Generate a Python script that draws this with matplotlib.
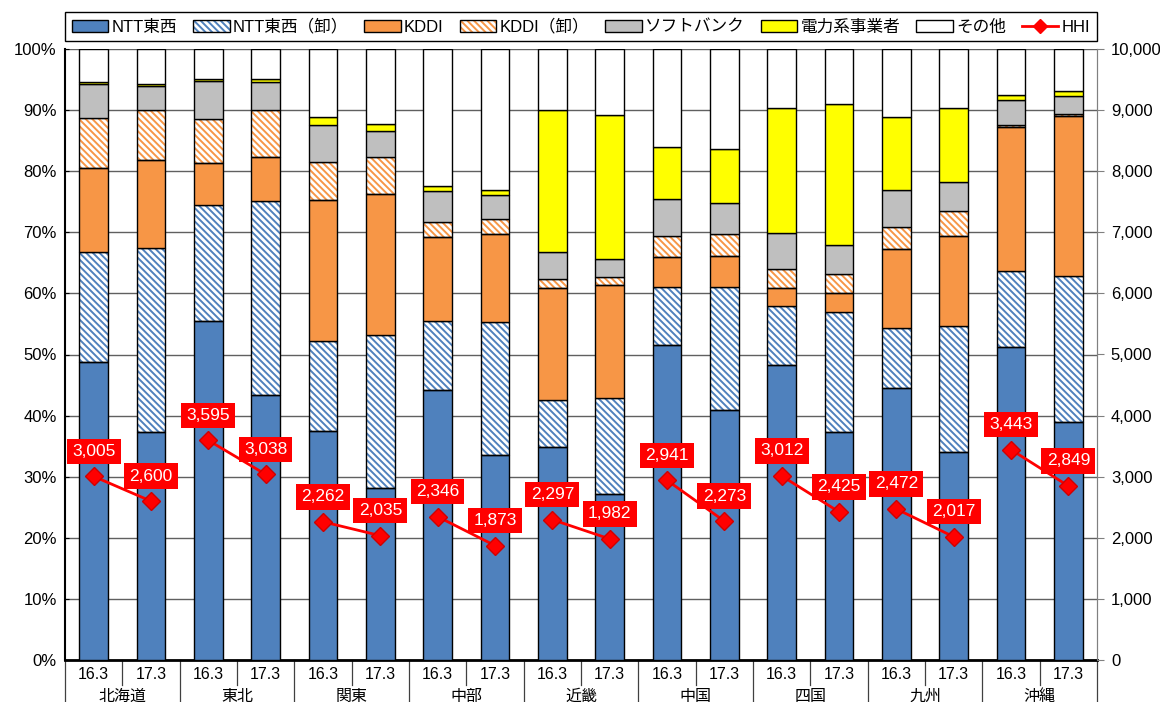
import matplotlib
matplotlib.use('Agg')
import matplotlib.pyplot as plt
import matplotlib.transforms as mtransforms
from matplotlib.patches import Patch
from matplotlib.lines import Line2D
from matplotlib.legend_handler import HandlerTuple
from matplotlib.ticker import FuncFormatter
import numpy as np

plt.rcParams['font.family'] = ['Liberation Sans', 'Noto Sans CJK JP', 'DejaVu Sans']
plt.rcParams['hatch.linewidth'] = 1.4

# ---------------- data ----------------
regions = ['北海道', '東北', '関東', '中部', '近畿', '中国', '四国', '九州', '沖縄']
periods = ['16.3', '17.3']

# shares (%) per bar, order: 北海道16.3, 北海道17.3, 東北16.3, ...
ntt       = [48.8, 37.3, 55.5, 43.4, 37.5, 28.1, 44.2, 33.6, 34.9, 27.2, 51.5, 40.9, 48.3, 37.3, 44.5, 34.0, 51.3, 38.9]
ntt_whole = [17.9, 30.1, 18.9, 31.7, 14.7, 25.1, 11.3, 21.8, 7.6, 15.7, 9.5, 20.1, 9.6, 19.7, 9.9, 20.6, 12.3, 24.0]
kddi      = [13.9, 14.4, 7.0, 7.3, 23.1, 23.1, 13.8, 14.4, 18.4, 18.5, 5.0, 5.2, 3.0, 3.0, 12.8, 14.8, 23.6, 26.1]
kddi_whole= [8.1, 8.2, 7.1, 7.6, 6.2, 6.1, 2.4, 2.4, 1.4, 1.3, 3.4, 3.6, 3.1, 3.2, 3.7, 4.1, 0.3, 0.3]
softbank  = [5.5, 3.9, 6.2, 4.6, 6.1, 4.2, 5.1, 3.9, 4.4, 3.0, 6.1, 5.0, 5.9, 4.8, 6.0, 4.7, 4.2, 3.0]
electric  = [0.4, 0.4, 0.4, 0.5, 1.2, 1.2, 0.7, 0.8, 23.3, 23.5, 8.5, 8.8, 20.5, 23.0, 11.9, 12.1, 0.7, 0.8]
hhi       = [3005, 2600, 3595, 3038, 2262, 2035, 2346, 1873, 2297, 1982, 2941, 2273, 3012, 2425, 2472, 2017, 3443, 2849]

series_names = ['NTT東西', 'NTT東西（卸）', 'KDDI', 'KDDI（卸）', 'ソフトバンク', '電力系事業者', 'その他']

# ---------------- styling ----------------
BLUE = '#4F81BD'
ORANGE = '#F79646'
GRAY = '#BFBFBF'
YELLOW = '#FFFF00'
RED = '#FF0000'
HATCH = '\\\\\\\\\\'

n = len(hhi)
other = [100 - (a + b + c + d + e + f) for a, b, c, d, e, f in
         zip(ntt, ntt_whole, kddi, kddi_whole, softbank, electric)]

series = [
    (ntt, BLUE, None),
    (ntt_whole, None, BLUE),
    (kddi, ORANGE, None),
    (kddi_whole, None, ORANGE),
    (softbank, GRAY, None),
    (electric, YELLOW, None),
    (other, 'white', None),
]

fig = plt.figure(figsize=(11.6, 7.02), dpi=100)
ax = fig.add_axes([65 / 1160, 42 / 702, 1032 / 1160, 611 / 702])

x = np.arange(n)
bottom = np.zeros(n)
W = 0.5
for vals, fc, hc in series:
    v = np.array(vals, dtype=float)
    if hc is not None:
        ax.bar(x, v, W, bottom=bottom, color='white', edgecolor=hc, hatch=HATCH,
               linewidth=0, zorder=2)
        ax.bar(x, v, W, bottom=bottom, fill=False, edgecolor='black', linewidth=1.0, zorder=3)
    else:
        ax.bar(x, v, W, bottom=bottom, color=fc, edgecolor='black', linewidth=1.0, zorder=3)
    bottom += v

ax.set_xlim(-0.5, n - 0.5)
ax.set_ylim(0, 100)
ax.set_yticks(np.arange(0, 101, 10))
ax.yaxis.set_major_formatter(FuncFormatter(lambda v, p: f"{int(v)}%"))
ax.yaxis.grid(True, color='#606060', linewidth=1.0, zorder=0)
ax.set_axisbelow(True)
ax.tick_params(axis='y', direction='in', length=3, pad=6, labelsize=12)
ax.set_xticks([])
ax.spines['top'].set_visible(False)
ax.spines['left'].set_linewidth(1.5)
ax.spines['bottom'].set_linewidth(2.0)
ax.spines['right'].set_color('#808080')

# category labels below axis
trans = mtransforms.blended_transform_factory(ax.transData, ax.transAxes)
for k in range(n + 1):
    xb = k - 0.5
    y_end = -0.069 if k % 2 == 0 else -0.041
    ax.add_line(Line2D([xb, xb], [0, y_end], transform=trans, color='#404040',
                       linewidth=0.9, clip_on=False))
for i in range(n):
    ax.text(i, -0.0245, periods[i % 2], transform=trans, ha='center', va='center', fontsize=11.5)
for r, name in enumerate(regions):
    ax.text(2 * r + 0.5, -0.059, name, transform=trans, ha='center', va='center', fontsize=11.5)

# secondary axis: HHI
ax2 = ax.twinx()
ax2.set_ylim(0, 10000)
ax2.set_yticks(np.arange(0, 10001, 1000))
ax2.yaxis.set_major_formatter(FuncFormatter(lambda v, p: f"{int(v):,}"))
ax2.tick_params(axis='y', direction='out', length=5, pad=5, labelsize=12, color='#808080')
for s in ['top', 'left', 'bottom']:
    ax2.spines[s].set_visible(False)
ax2.spines['right'].set_color('#808080')

for r in range(len(regions)):
    xs = [2 * r, 2 * r + 1]
    ys = [hhi[2 * r], hhi[2 * r + 1]]
    ax2.plot(xs, ys, color=RED, linewidth=2, marker='D', markersize=9,
             markerfacecolor=RED, markeredgecolor='#D00000', zorder=5)
for i, v in enumerate(hhi):
    ax2.annotate(f"{v:,}", xy=(i, v), xytext=(0, 18), textcoords='offset points',
                 ha='center', va='center', color='white', fontsize=12.5,
                 bbox=dict(boxstyle='square,pad=0.3', fc=RED, ec='none'), zorder=6)

# legend
handles = [
    Patch(facecolor=BLUE, edgecolor='black', linewidth=1),
    (Patch(facecolor='white', edgecolor=BLUE, hatch=HATCH, linewidth=0),
     Patch(fill=False, edgecolor='black', linewidth=1)),
    Patch(facecolor=ORANGE, edgecolor='black', linewidth=1),
    (Patch(facecolor='white', edgecolor=ORANGE, hatch=HATCH, linewidth=0),
     Patch(fill=False, edgecolor='black', linewidth=1)),
    Patch(facecolor=GRAY, edgecolor='black', linewidth=1),
    Patch(facecolor=YELLOW, edgecolor='black', linewidth=1),
    Patch(facecolor='white', edgecolor='black', linewidth=1),
    Line2D([], [], color=RED, linewidth=2, marker='D', markersize=7, markerfacecolor=RED),
]
labels = series_names + ['HHI']
leg = ax.legend(handles, labels, ncol=8, loc='center', mode='expand',
                bbox_to_anchor=(0, 1.013, 1, 0.047), borderaxespad=0,
                fontsize=12, frameon=True, fancybox=False, edgecolor='black',
                framealpha=1, handlelength=2.2, handleheight=0.7, handletextpad=0.2,
                borderpad=0.4, handler_map={tuple: HandlerTuple(ndivide=1)})
leg.get_frame().set_linewidth(1.0)
leg.set_zorder(10)

fig.savefig('out.png', dpi=100)
